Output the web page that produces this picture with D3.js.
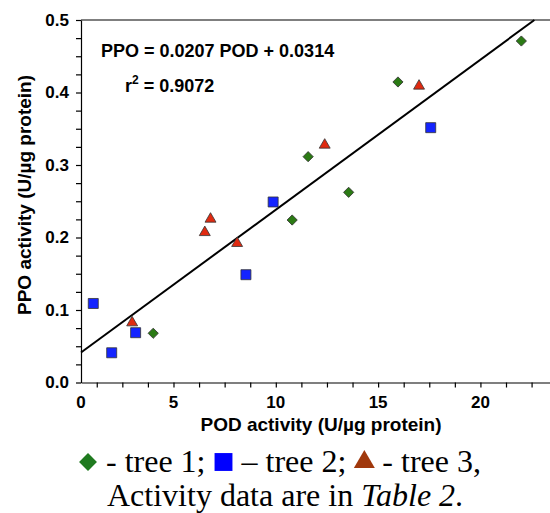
<!DOCTYPE html>
<html>
<head>
<meta charset="utf-8">
<script src="https://cdn.jsdelivr.net/npm/d3@7"></script>
<style>
  body { margin: 0; background: #fff; }
  svg { display: block; }
  .ax { font-family: "Liberation Sans", Arial, sans-serif; font-weight: bold; }
  .cap { font-family: "Liberation Serif", "Times New Roman", serif; }
</style>
</head>
<body>
<svg id="chart" width="550" height="513"></svg>
<script>
// POD activity (x) and PPO activity (y)
const tree1Pod = [22.0, 15.97, 11.58, 13.56, 10.8, 4.01];
const tree1Ppo = [0.471, 0.4145, 0.3115, 0.2623, 0.2241, 0.0679];
const tree2Pod = [17.57, 9.87, 1.08, 1.98, 3.15, 8.54];
const tree2Ppo = [0.3515, 0.249, 0.109, 0.041, 0.0687, 0.1487];
const tree3Pod = [17.0, 12.39, 2.98, 6.53, 6.81, 8.11];
const tree3Ppo = [0.409, 0.3276, 0.0825, 0.207, 0.2255, 0.192];

const slope = 0.0207, intercept = 0.0314;
const xTickLabels = [0, 5, 10, 15, 20];
const yTickLabels = [0, 0.1, 0.2, 0.3, 0.4, 0.5];

const svg = d3.select('#chart');
const margin = { top: 20, left: 81, right: 0, bottom: 130 };
const width = 550 - margin.left - margin.right,
    height = 513 - margin.top - margin.bottom; // 363

// axis starts just right of zero, as in the original plot
const xStart = 0.48, xEnd = 23.4;
const x = d3.scaleLinear().domain([xStart, xEnd]).range([margin.left, margin.left + width]);
const y = d3.scaleLinear().domain([0, 0.5]).range([margin.top + height - 0.5, margin.top]);

// y axis: minor ticks every 0.025, labels every 0.1
const yAxis = d3.axisLeft(y)
    .tickValues(d3.range(0, 0.5001, 0.025))
    .tickSize(5)
    .tickSizeOuter(0)
    .tickFormat((d) => (yTickLabels.some((t) => Math.abs(t - d) < 1e-6) ? d3.format('.1f')(d) : ''));
const gy = svg.append('g').attr('class', 'ax').attr('transform', `translate(${margin.left},0)`).call(yAxis);
gy.selectAll('line, path').attr('stroke', '#000').attr('stroke-width', 1.2);
gy.selectAll('text').attr('font-size', 17).attr('x', -12).attr('fill', '#000');

// x axis: minor ticks every 1.25
const xAxis = d3.axisBottom(x)
    .tickValues(d3.range(1.25, 23, 1.25))
    .tickSize(5)
    .tickSizeOuter(0)
    .tickFormat('');
const gx = svg.append('g').attr('class', 'ax').attr('transform', `translate(0,${y(0)})`).call(xAxis);
gx.selectAll('line, path').attr('stroke', '#000').attr('stroke-width', 1.2);

svg.append('g').attr('class', 'ax')
    .selectAll('text')
    .data(xTickLabels)
    .join('text')
    .attr('x', (d) => x(Math.max(d, xStart)))
    .attr('y', y(0) + 25)
    .attr('text-anchor', 'middle')
    .attr('font-size', 17)
    .text((d) => d);

// top frame line
svg.append('line')
    .attr('x1', x(xStart)).attr('x2', x(xEnd))
    .attr('y1', y(0.5)).attr('y2', y(0.5))
    .attr('stroke', '#000').attr('stroke-width', 1.2);

// axis titles
svg.append('text').attr('class', 'ax')
    .attr('x', 321).attr('y', 431)
    .attr('text-anchor', 'middle').attr('font-size', 19)
    .text('POD activity (U/\u00b5g protein)');

svg.append('text').attr('class', 'ax')
    .attr('transform', 'translate(31,195) rotate(-90)')
    .attr('text-anchor', 'middle').attr('font-size', 19)
    .text('PPO activity (U/\u00b5g protein)');

// regression line
const lineEnd = (0.5 - intercept) / slope;
svg.append('line')
    .attr('x1', x(xStart)).attr('y1', y(slope * xStart + intercept))
    .attr('x2', x(lineEnd)).attr('y2', y(0.5))
    .attr('stroke', '#000').attr('stroke-width', 2);

// equation
svg.append('text').attr('class', 'ax')
    .attr('x', 101).attr('y', 57).attr('font-size', 18)
    .text('PPO = 0.0207 POD + 0.0314');
const r2 = svg.append('text').attr('class', 'ax')
    .attr('x', 125).attr('y', 92).attr('font-size', 18);
r2.append('tspan').text('r');
r2.append('tspan').attr('font-size', 12).attr('dy', -8).text('2');
r2.append('tspan').attr('dy', 8).text(' = 0.9072');

// points
const series = [
    { pod: tree1Pod, ppo: tree1Ppo, type: d3.symbolSquare, size: 52, rotate: 45, fill: '#2b7a14' },
    { pod: tree2Pod, ppo: tree2Ppo, type: d3.symbolSquare, size: 100, rotate: 0, fill: '#1424ff' },
    { pod: tree3Pod, ppo: tree3Ppo, type: d3.symbolTriangle, size: 52, rotate: 0, fill: '#e02a10' },
];

series.forEach((s) => {
    svg.append('g')
        .selectAll('path')
        .data(s.pod.map((p, i) => ({ pod: p, ppo: s.ppo[i] })))
        .join('path')
        .attr('d', d3.symbol(s.type, s.size))
        .attr('transform', (d) => `translate(${x(d.pod)},${y(d.ppo)}) rotate(${s.rotate})`)
        .attr('fill', s.fill)
        .attr('stroke', '#333')
        .attr('stroke-width', 0.8);
});

// caption with legend symbols
const capSize = 32;
const legendItems = [
    { type: d3.symbolSquare, size: 160, rotate: 45, fill: '#1f7a1f', label: ' - tree 1; ' },
    { type: d3.symbolSquare, size: 320, rotate: 0, fill: '#0000ff', label: ' \u2013 tree 2; ' },
    { type: d3.symbolTriangle, size: 190, rotate: 0, fill: '#a0380c', label: ' - tree 3,' },
];
let cx = 78;
const line1Y = 472;
legendItems.forEach((it) => {
    svg.append('path')
        .attr('d', d3.symbol(it.type, it.size))
        .attr('transform', `translate(${cx + 10},${line1Y - 10}) rotate(${it.rotate})`)
        .attr('fill', it.fill);
    cx += 20;
    const t = svg.append('text').attr('class', 'cap')
        .attr('x', cx).attr('y', line1Y)
        .attr('font-size', capSize)
        .attr('xml:space', 'preserve')
        .style('white-space', 'pre')
        .text(it.label);
    cx += t.node().getComputedTextLength();
});

const line2 = svg.append('text').attr('class', 'cap')
    .attr('x', 107).attr('y', 506)
    .attr('font-size', capSize);
line2.append('tspan').text('Activity data are in ');
line2.append('tspan').attr('font-style', 'italic').text('Table 2');
line2.append('tspan').text('.');
</script>
</body>
</html>
